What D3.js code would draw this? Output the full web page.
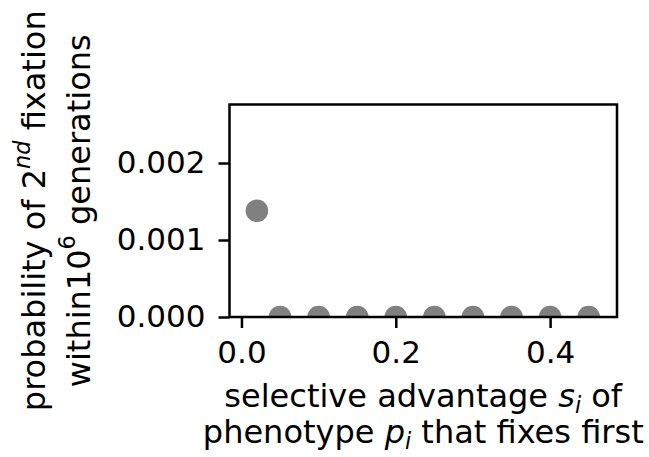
<!DOCTYPE html>
<html>
<head>
<meta charset="utf-8">
<script src="https://cdn.jsdelivr.net/npm/d3@7"></script>
<style>
  html, body { margin: 0; padding: 0; background: #fff; }
  svg text { font-family: "DejaVu Sans", sans-serif; fill: #000; }
</style>
</head>
<body>
<svg id="chart" width="649" height="457"></svg>
<script>
// selective advantage of the first-fixing phenotype
const selectiveAdvantage = [0.02, 0.05, 0.10, 0.15, 0.20, 0.25, 0.30, 0.35, 0.40, 0.45];
// probability of a second fixation within 10^6 generations
const secondFixationProb = [0.00138, 0, 0, 0, 0, 0, 0, 0, 0, 0];
const xTicks = [0.0, 0.2, 0.4];
const yTicks = [0.000, 0.001, 0.002];

const tickFont = 31;
const labelFont = 32;
const margin = { left: 229.5, right: 32, top: 104.5, bottom: 140 };
const W = 649, H = 457;
const svg = d3.select("#chart");

const x = d3.scaleLinear().domain([-0.0155, 0.4867]).range([margin.left, W - margin.right]);
const y = d3.scaleLinear().domain([0, 0.00276]).range([H - margin.bottom, margin.top]);

// clip so the points at zero are cut by the plot frame
svg.append("clipPath").attr("id", "plotclip")
  .append("rect")
  .attr("x", margin.left).attr("y", margin.top)
  .attr("width", W - margin.right - margin.left)
  .attr("height", H - margin.bottom - margin.top);

svg.append("g").attr("clip-path", "url(#plotclip)")
  .selectAll("circle")
  .data(selectiveAdvantage.map((s, i) => ({ s, p: secondFixationProb[i] })))
  .join("circle")
  .attr("cx", d => x(d.s))
  .attr("cy", d => y(d.p))
  .attr("r", 11.3)
  .attr("fill", "#808080");

const xAxis = svg.append("g")
  .attr("transform", `translate(0,${H - margin.bottom})`)
  .call(d3.axisBottom(x).tickValues(xTicks).tickFormat(d3.format(".1f")).tickSize(11).tickPadding(13));
const yAxis = svg.append("g")
  .attr("transform", `translate(${margin.left},0)`)
  .call(d3.axisLeft(y).tickValues(yTicks).tickFormat(d3.format(".3f")).tickSize(11).tickPadding(13));

[xAxis, yAxis].forEach(g => {
  g.select(".domain").remove();
  g.selectAll(".tick line").attr("stroke", "#000").attr("stroke-width", 2.5);
  g.selectAll(".tick text").attr("font-size", tickFont).attr("font-family", "DejaVu Sans").attr("fill", "#000");
});

// plot frame
svg.append("rect")
  .attr("x", margin.left).attr("y", margin.top)
  .attr("width", W - margin.right - margin.left)
  .attr("height", H - margin.bottom - margin.top)
  .attr("fill", "none").attr("stroke", "#000").attr("stroke-width", 2.5);

// x axis label (two lines)
const cx = (margin.left + W - margin.right) / 2;
const xl1 = svg.append("text").attr("x", cx).attr("y", 407).attr("text-anchor", "middle").attr("font-size", labelFont);
xl1.append("tspan").text("selective advantage ");
xl1.append("tspan").attr("font-style", "italic").text("s");
xl1.append("tspan").attr("font-style", "italic").attr("font-size", labelFont * 0.7).attr("dy", 6).text("i");
xl1.append("tspan").attr("dy", -6).text(" of");

const xl2 = svg.append("text").attr("x", cx).attr("y", 442.5).attr("text-anchor", "middle").attr("font-size", labelFont);
xl2.append("tspan").text("phenotype ");
xl2.append("tspan").attr("font-style", "italic").text("p");
xl2.append("tspan").attr("font-style", "italic").attr("font-size", labelFont * 0.7).attr("dy", 6).text("i");
xl2.append("tspan").attr("dy", -6).text(" that fixes first");

// y axis label (two lines, rotated)
const cy = (margin.top + H - margin.bottom) / 2;
const yl1 = svg.append("text")
  .attr("transform", `translate(45,${cy}) rotate(-90)`)
  .attr("text-anchor", "middle").attr("font-size", labelFont);
yl1.append("tspan").text("probability of 2");
yl1.append("tspan").attr("font-style", "italic").attr("font-size", labelFont * 0.7).attr("dy", -15).text("nd");
yl1.append("tspan").attr("dy", 15).text(" fixation");

const yl2 = svg.append("text")
  .attr("transform", `translate(90,${cy}) rotate(-90)`)
  .attr("text-anchor", "middle").attr("font-size", labelFont);
yl2.append("tspan").text("within10");
yl2.append("tspan").attr("font-size", labelFont * 0.7).attr("dy", -15).text("6");
yl2.append("tspan").attr("dy", 15).text(" generations");
</script>
</body>
</html>
